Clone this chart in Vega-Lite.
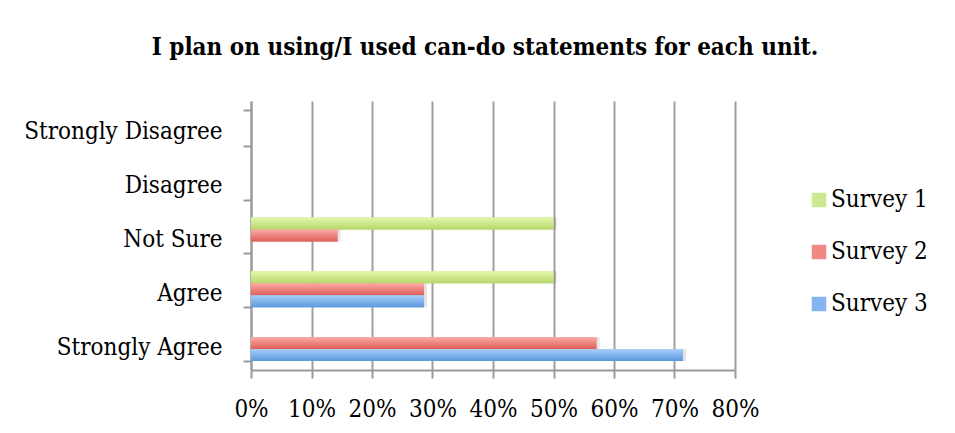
{
  "$schema": "https://vega.github.io/schema/vega-lite/v6.json",
  "width": 484,
  "height": 269,
  "autosize": {"type": "none"},
  "padding": {"left": 251, "top": 101, "right": 220, "bottom": 63},
  "background": "white",
  "title": {
    "text": "I plan on using/I used can-do statements for each unit.",
    "font": "DejaVu Serif Condensed",
    "fontSize": 24,
    "fontWeight": "bold",
    "color": "black",
    "anchor": "middle",
    "frame": "group",
    "offset": 29,
    "dx": -8
  },
  "config": {
    "view": {"stroke": null},
    "axis": {
      "labelFont": "DejaVu Serif Condensed",
      "labelFontSize": 24,
      "labelColor": "black",
      "labelLimit": 0,
      "labelOverlap": false,
      "labelFlush": false,
      "domainColor": "#9a9a9a",
      "domainWidth": 2,
      "tickColor": "#9a9a9a",
      "tickWidth": 2,
      "tickSize": 8,
      "title": null
    },
    "legend": {
      "labelFont": "DejaVu Serif Condensed",
      "labelFontSize": 24,
      "labelColor": "black",
      "labelLimit": 0
    }
  },
  "data": {
    "values": [
      {"category": "Not Sure", "series": "Survey 1", "value": 0.5},
      {"category": "Not Sure", "series": "Survey 2", "value": 0.143},
      {"category": "Agree", "series": "Survey 1", "value": 0.5},
      {"category": "Agree", "series": "Survey 2", "value": 0.286},
      {"category": "Agree", "series": "Survey 3", "value": 0.286},
      {"category": "Strongly Agree", "series": "Survey 2", "value": 0.571},
      {"category": "Strongly Agree", "series": "Survey 3", "value": 0.714}
    ]
  },
  "encoding": {
    "y": {
      "field": "category",
      "type": "nominal",
      "scale": {
        "domain": ["Strongly Disagree", "Disagree", "Not Sure", "Agree", "Strongly Agree"],
        "paddingInner": 0.333,
        "paddingOuter": 0.1667
      },
      "axis": {
        "tickBand": "extent",
        "grid": false,
        "labelPadding": 21,
        "labelOffset": 4
      }
    },
    "yOffset": {
      "field": "series",
      "type": "nominal",
      "scale": {"domain": ["Survey 1", "Survey 2", "Survey 3"], "paddingInner": 0, "paddingOuter": 0}
    },
    "x": {
      "field": "value",
      "type": "quantitative",
      "stack": null,
      "scale": {"domain": [0, 0.8]},
      "axis": {
        "values": [0, 0.1, 0.2, 0.3, 0.4, 0.5, 0.6, 0.7, 0.8],
        "format": ".0%",
        "grid": true,
        "gridColor": "#a0a0a0",
        "gridWidth": 2,
        "labelPadding": 19
      }
    }
  },
  "layer": [
    {
      "mark": {
        "type": "bar",
        "color": "#000000",
        "opacity": 0.1,
        "stroke": "#000000",
        "strokeWidth": 3,
        "strokeOpacity": 0.06,
        "xOffset": 3,
        "yOffset": 3
      }
    },
    {
      "mark": {"type": "bar", "cornerRadius": 0},
      "encoding": {
        "color": {
          "field": "series",
          "type": "nominal",
          "scale": {
            "domain": ["Survey 1", "Survey 2", "Survey 3"],
            "range": ["#cde892", "#ef8a83", "#86b6ef"]
          },
          "legend": {
            "orient": "none",
            "legendX": 556,
            "legendY": 87,
            "title": null,
            "symbolType": "square",
            "symbolSize": 210,
            "symbolStrokeWidth": 0,
            "rowPadding": 28,
            "labelOffset": 0
          }
        }
      }
    },
    {
      "transform": [{"filter": "datum.series === 'Survey 1'"}],
      "mark": {
        "type": "bar",
        "color": {
          "gradient": "linear", "x1": 0, "y1": 0, "x2": 0, "y2": 1,
          "stops": [{"offset": 0, "color": "#e3f7ab"}, {"offset": 1, "color": "#b6d76a"}]
        }
      }
    },
    {
      "transform": [{"filter": "datum.series === 'Survey 2'"}],
      "mark": {
        "type": "bar",
        "color": {
          "gradient": "linear", "x1": 0, "y1": 0, "x2": 0, "y2": 1,
          "stops": [{"offset": 0, "color": "#fbaba5"}, {"offset": 1, "color": "#df5e57"}]
        }
      }
    },
    {
      "transform": [{"filter": "datum.series === 'Survey 3'"}],
      "mark": {
        "type": "bar",
        "color": {
          "gradient": "linear", "x1": 0, "y1": 0, "x2": 0, "y2": 1,
          "stops": [{"offset": 0, "color": "#a8cef8"}, {"offset": 1, "color": "#5a99df"}]
        }
      }
    }
  ]
}
